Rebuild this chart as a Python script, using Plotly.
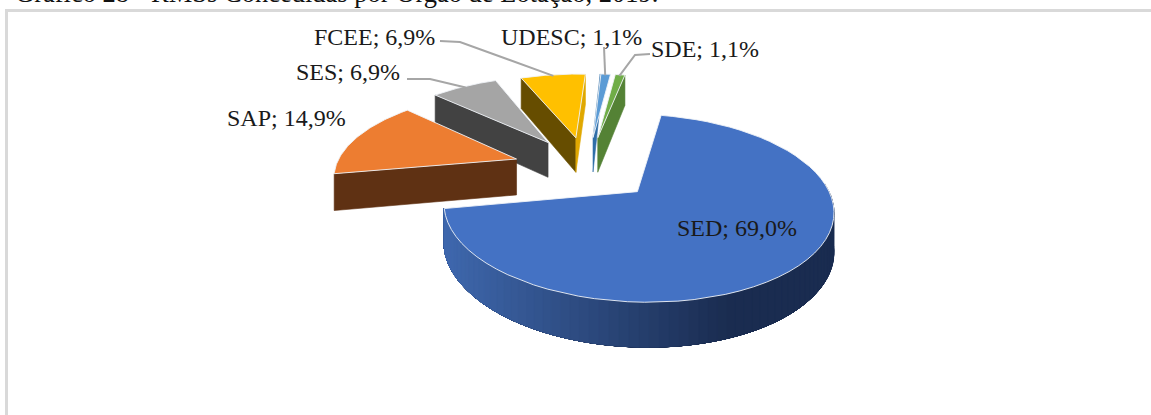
import math
import plotly.graph_objects as go

categories = ["SED", "SAP", "SES", "FCEE", "UDESC", "SDE"]
values = [69.0, 14.9, 6.9, 6.9, 1.1, 1.1]
value_labels = ["69,0%", "14,9%", "6,9%", "6,9%", "1,1%", "1,1%"]
top_colors = ["#4472C4", "#ED7D31", "#A5A5A5", "#FFC000", "#5B9BD5", "#70AD47"]
wall_colors = ["#3F68AE", "#5F3113", "#424242", "#664D00", "#2F6EA8", "#548235"]
end_wall_colors = [None, None, None, "#E0A800", None, "#548235"]
walls = [[], ["start"], ["start"], ["start", "end"], ["start"], ["end"]]
radius = [0.99, 0.98, 1.02, 1.0, 1.0, 1.0]
explode = [0.37, 0.405, 0.395, 0.395, 0.395, 0.395]
label_pos = [(737, 228), (286, 118), (348, 72), (374, 37), (571, 37), (705, 49)]
caption = "Gráfico 28 - RMSs Concedidas por Órgão de Lotação, 2019."

ROT, CX, CY, A, B, K, DEPTH, KD = 11.0, 587, 168.5, 185, 84, 0.17, 36.5, 0.15


def project(u, v):
    f = 1 / (1 - K * v)
    return CX + A * u * f, CY + B * v * f


def depth(v):
    return DEPTH / (1 - KD * v)


fig = go.Figure()


def poly(xs, ys, fill, line=None, width=0):
    fig.add_trace(go.Scatter(
        x=xs, y=ys, mode="lines", fill="toself", fillcolor=fill,
        line=dict(color=line or fill, width=width if line else 0.6),
        hoverinfo="skip", showlegend=False))


total = sum(values)
spans = []
a0 = ROT
for val in values:
    a1 = a0 + val / total * 360
    spans.append((a0, a1))
    a0 = a1


def ground(i, theta, r=None):
    t0, t1 = spans[i]
    mid = math.radians((t0 + t1) / 2)
    u0, v0 = explode[i] * math.sin(mid), -explode[i] * math.cos(mid)
    if r is None:
        r = radius[i]
    th = math.radians(theta)
    return u0 + r * math.sin(th), v0 - r * math.cos(th)


def wall_quad(i, theta, color):
    au, av = ground(i, theta, 0)
    ou, ov = ground(i, theta)
    ax, ay = project(au, av)
    ox, oy = project(ou, ov)
    poly([ax, ox, ox, ax, ax],
         [ay, oy, oy + depth(ov), ay + depth(av), ay], color)


leaders = {}
for i in [5, 4, 3, 2, 1, 0]:
    t0, t1 = spans[i]
    for side in walls[i]:
        if side == "start":
            wall_quad(i, t0, wall_colors[i])
        else:
            wall_quad(i, t1, end_wall_colors[i])
    if i == 0:
        n = 70
        for s in range(n):
            a = 85 + (t1 - 85) * s / n
            c = min(1, max(0, (project(*ground(0, a))[0] - 444) / 290))
            rgb = tuple(round(p + (q - p) * c) for p, q in zip((63, 104, 174), (26, 44, 80)))
            col = "rgb(%d,%d,%d)" % rgb
            arc = [ground(0, a + (t1 - a) * q / 24) for q in range(25)]
            upper = [project(u, v) for u, v in arc]
            lower = [(project(u, v)[0], project(u, v)[1] + depth(v)) for u, v in arc]
            ring = upper + lower[::-1] + upper[:1]
            poly([p[0] for p in ring], [p[1] for p in ring], col)
    pts = [project(*ground(i, t0 + (t1 - t0) * s / 60)) for s in range(61)]
    apex = project(*ground(i, 0, 0))
    xs = [apex[0]] + [p[0] for p in pts] + [apex[0]]
    ys = [apex[1]] + [p[1] for p in pts] + [apex[1]]
    poly(xs, ys, top_colors[i], "rgba(240,243,247,0.9)", 1)
    leaders[i] = project(*ground(i, (t0 + t1) / 2, radius[i] * 0.98))

leader_paths = {
    3: [(440, 41), (460, 42)],
    2: [(407, 79), (430, 79)],
    4: [(604, 47)],
    5: [(650, 54), (635, 55)],
}
for i, path in leader_paths.items():
    end = leaders[i]
    fig.add_trace(go.Scatter(
        x=[p[0] for p in path] + [end[0]], y=[p[1] for p in path] + [end[1]],
        mode="lines", line=dict(color="#A6A6A6", width=2),
        hoverinfo="skip", showlegend=False))

annotations = [
    dict(x=p[0], y=p[1], text=f"{c}; {v}", showarrow=False, xanchor="center", yanchor="middle",
         font=dict(family="Liberation Serif", size=24, color="#1a1a1a"))
    for c, v, p in zip(categories, value_labels, label_pos)
]
annotations.append(dict(x=13, y=10, text=caption, showarrow=False, xanchor="left", yanchor="bottom",
                        font=dict(family="Liberation Serif", size=26.5, color="#111111")))

fig.update_layout(
    width=1151, height=415, margin=dict(l=0, r=0, t=0, b=0),
    paper_bgcolor="white", plot_bgcolor="white", showlegend=False,
    xaxis=dict(range=[0, 1151], visible=False, fixedrange=True),
    yaxis=dict(range=[415, 0], visible=False, fixedrange=True),
    annotations=annotations,
    shapes=[dict(type="rect", x0=6.5, x1=1170, y0=10.5, y1=430, xref="x", yref="y",
                 line=dict(color="#D9D9D9", width=3), layer="below")],
)
fig.write_html("out.html", config={"displayModeBar": False},
               post_script="document.body.style.margin='0';document.body.style.overflow='hidden';")
